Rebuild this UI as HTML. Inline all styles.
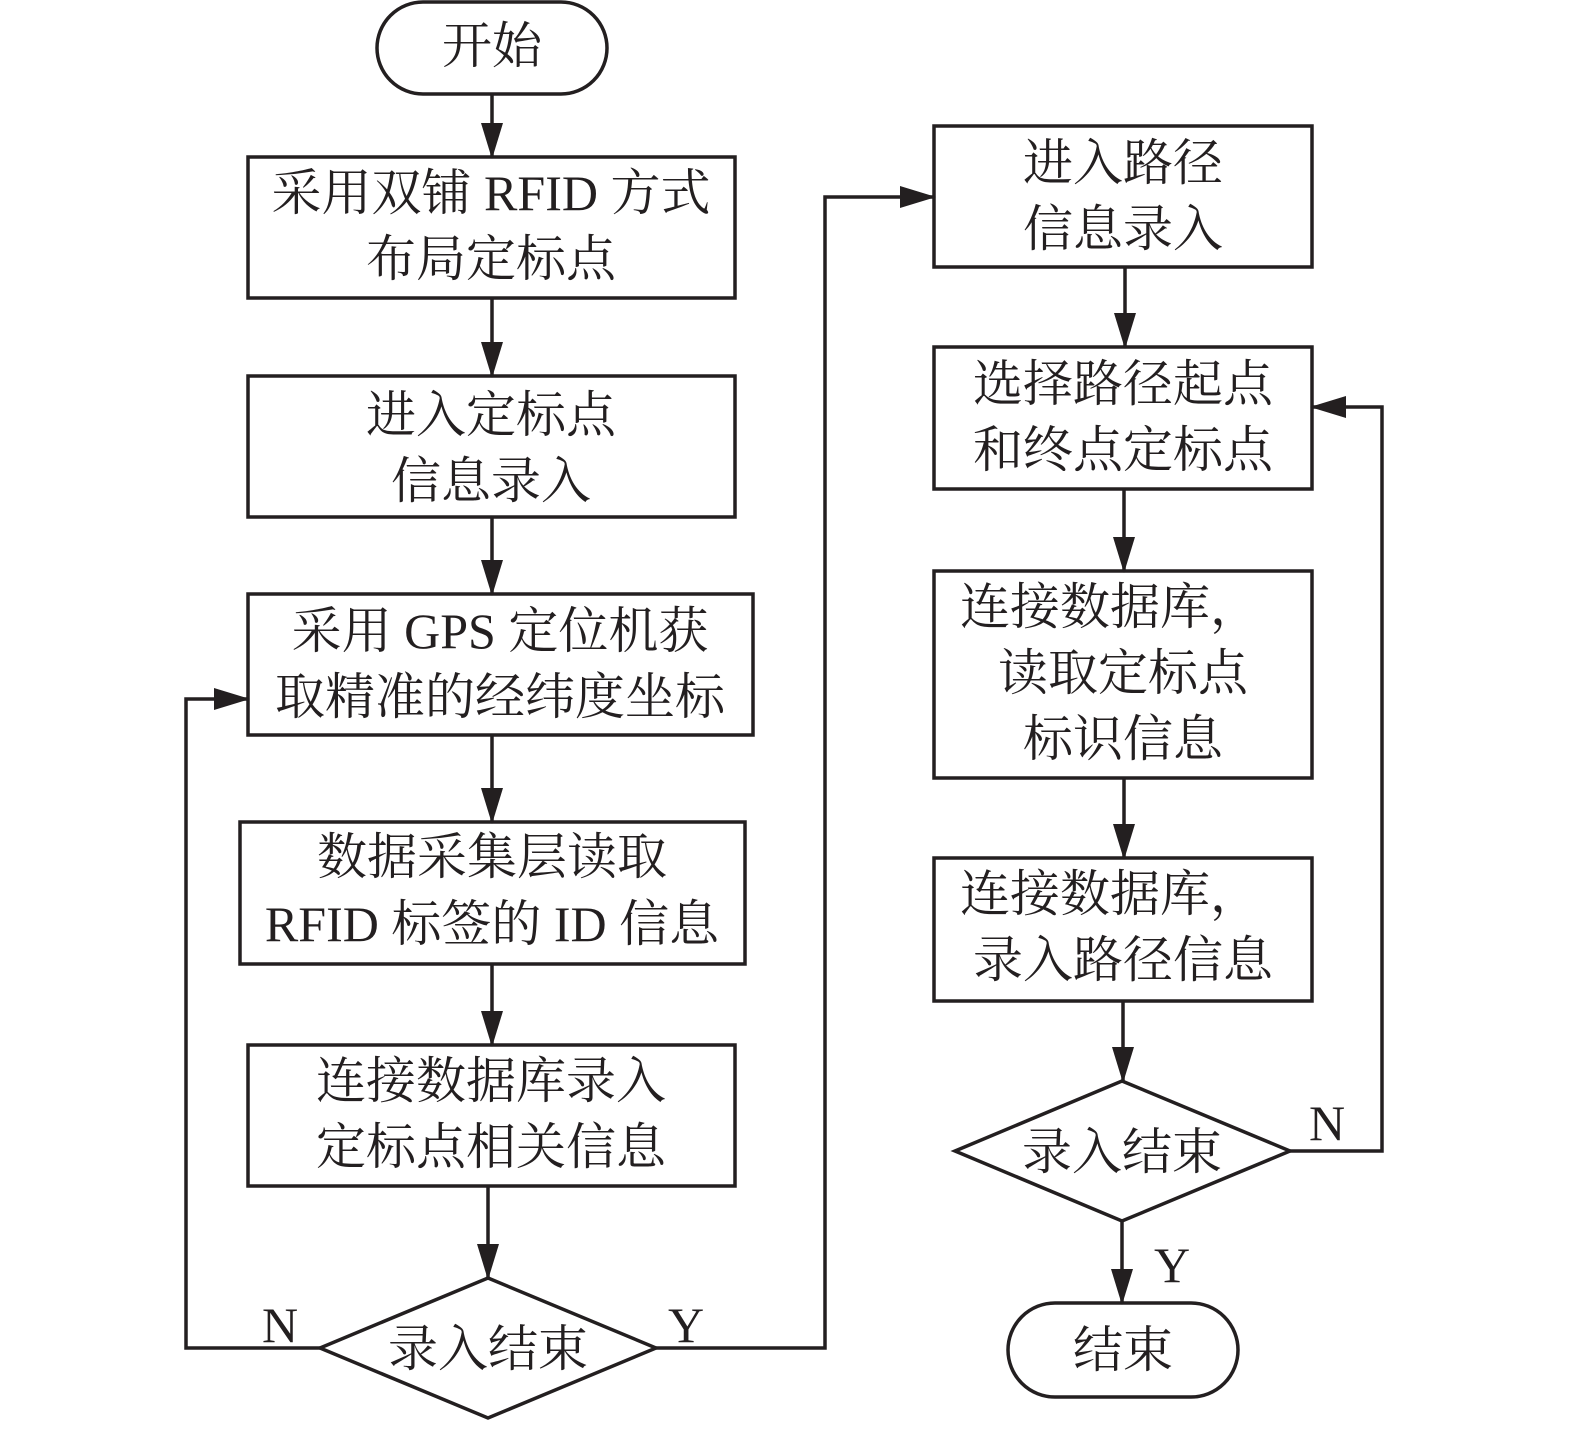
<!DOCTYPE html>
<html><head><meta charset="utf-8"><style>
html,body{margin:0;padding:0;background:#fff}
svg{display:block}
text{font-family:"Liberation Serif","Noto Serif CJK SC",serif;font-size:50px;fill:#231f20;text-anchor:middle}
</style></head><body>
<svg width="1575" height="1434" viewBox="0 0 1575 1434" xmlns="http://www.w3.org/2000/svg">
<defs><marker id="a" markerWidth="36" markerHeight="24" refX="34" refY="12" orient="auto" markerUnits="userSpaceOnUse"><path d="M0,1 L36,12 L0,23 Z" fill="#231f20"/></marker></defs>
<g fill="none" stroke="#231f20" stroke-width="3.5">
<rect x="377" y="2" width="230" height="92" rx="46"/>
<rect x="248" y="157" width="487" height="141"/>
<rect x="248" y="376" width="487" height="141"/>
<rect x="248" y="594" width="505" height="141"/>
<rect x="240" y="822" width="505" height="142"/>
<rect x="248" y="1045" width="487" height="141"/>
<polygon points="488,1278 656,1348 488,1418 320,1348"/>
<rect x="934" y="126" width="378" height="141"/>
<rect x="934" y="347" width="378" height="142"/>
<rect x="934" y="571" width="378" height="207"/>
<rect x="934" y="858" width="378" height="143"/>
<polygon points="1122,1081 1290,1151 1122,1221 955,1151"/>
<rect x="1008" y="1303" width="230" height="94" rx="47"/>
<g marker-end="url(#a)">
<line x1="492" y1="94" x2="492" y2="157"/>
<line x1="492" y1="298" x2="492" y2="376"/>
<line x1="492" y1="517" x2="492" y2="594"/>
<line x1="492" y1="735" x2="492" y2="822"/>
<line x1="492" y1="964" x2="492" y2="1045"/>
<line x1="488" y1="1186" x2="488" y2="1278"/>
<polyline points="320,1348 186,1348 186,699 248,699"/>
<polyline points="656,1348 825,1348 825,197 934,197"/>
<line x1="1125" y1="267" x2="1125" y2="347"/>
<line x1="1124" y1="489" x2="1124" y2="571"/>
<line x1="1124" y1="778" x2="1124" y2="858"/>
<line x1="1123" y1="1001" x2="1123" y2="1081"/>
<polyline points="1290,1151 1382,1151 1382,407 1312,407"/>
<line x1="1122" y1="1221" x2="1122" y2="1303"/>
</g>
</g>
<text x="492" y="63">开始</text>
<text x="491" y="210">采用双铺 RFID 方式</text>
<text x="491" y="276">布局定标点</text>
<text x="491" y="432">进入定标点</text>
<text x="491" y="498">信息录入</text>
<text x="500" y="648">采用 GPS 定位机获</text>
<text x="500" y="714">取精准的经纬度坐标</text>
<text x="492" y="874">数据采集层读取</text>
<text x="492" y="941">RFID 标签的 ID 信息</text>
<text x="491" y="1098">连接数据库录入</text>
<text x="491" y="1164">定标点相关信息</text>
<text x="488" y="1366">录入结束</text>
<text x="280" y="1342">N</text>
<text x="686" y="1342">Y</text>
<text x="1123" y="180">进入路径</text>
<text x="1123" y="246">信息录入</text>
<text x="1123" y="401">选择路径起点</text>
<text x="1123" y="467">和终点定标点</text>
<text x="1110" y="624">连接数据库，</text>
<text x="1123" y="690">读取定标点</text>
<text x="1123" y="756">标识信息</text>
<text x="1110" y="911">连接数据库，</text>
<text x="1123" y="977">录入路径信息</text>
<text x="1122" y="1169">录入结束</text>
<text x="1327" y="1140">N</text>
<text x="1172" y="1282">Y</text>
<text x="1123" y="1367">结束</text>
</svg>
</body></html>
